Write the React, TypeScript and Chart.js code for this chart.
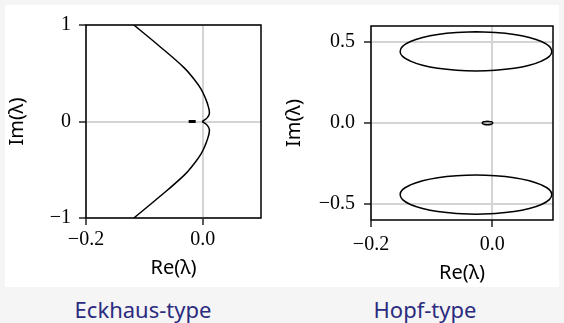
import React, { useEffect, useRef } from "react";
import { Chart, registerables } from "chart.js";

Chart.register(...registerables);

// ---------- data ----------
const reTicks = [-0.2, 0.0];
const reTickLabels = ["−0.2", "0.0"];

const eckImTicks = [-1, 0, 1];
const eckImTickLabels = ["−1", "0", "1"];

const hopfImTicks = [-0.5, 0, 0.5];
const hopfImTickLabels = ["−0.5", "0.0", "0.5"];

// Eckhaus-type spectrum: upper branch (top edge -> cusp at origin)
const eckUpperRe = [-0.118, -0.074, -0.032, -0.015, -0.003, 0.005, 0.0098, 0.0115, 0.008, 0.001, -0.001];
const eckUpperIm = [1.0, 0.78, 0.558, 0.44, 0.338, 0.237, 0.152, 0.084, 0.04, 0.007, 0.0];
// lower branch (bottom edge -> cusp)
const eckLowerRe = [-0.118, -0.074, -0.032, -0.015, -0.003, 0.005, 0.0098, 0.0115, 0.008, 0.001, -0.001];
const eckLowerIm = [-1.0, -0.78, -0.558, -0.44, -0.338, -0.237, -0.152, -0.084, -0.04, -0.007, 0.0];
// short segment on the real axis
const eckDashRe = [-0.024, -0.012];
const eckDashIm = [0.0, 0.0];

// Hopf-type spectrum: upper loop
const hopfUpperRe = [-0.027, -0.059, -0.090, -0.115, -0.135, -0.148, -0.152, -0.148, -0.135, -0.115, -0.090, -0.059, -0.027, 0.005, 0.036, 0.061, 0.081, 0.094, 0.098, 0.094, 0.081, 0.061, 0.036, 0.005, -0.027];
const hopfUpperIm = [0.564, 0.560, 0.548, 0.529, 0.504, 0.474, 0.443, 0.412, 0.383, 0.357, 0.338, 0.326, 0.322, 0.326, 0.338, 0.357, 0.383, 0.412, 0.443, 0.474, 0.504, 0.529, 0.548, 0.560, 0.564];
// lower loop
const hopfLowerRe = [-0.027, -0.059, -0.090, -0.115, -0.135, -0.148, -0.152, -0.148, -0.135, -0.115, -0.090, -0.059, -0.027, 0.005, 0.036, 0.061, 0.081, 0.094, 0.098, 0.094, 0.081, 0.061, 0.036, 0.005, -0.027];
const hopfLowerIm = [-0.564, -0.560, -0.548, -0.529, -0.504, -0.474, -0.443, -0.412, -0.383, -0.357, -0.338, -0.326, -0.322, -0.326, -0.338, -0.357, -0.383, -0.412, -0.443, -0.474, -0.504, -0.529, -0.548, -0.560, -0.564];
// small loop near the origin
const hopfSmallRe = [-0.008, -0.0142, -0.0167, -0.0142, -0.008, -0.0018, 0.0007, -0.0018, -0.008];
const hopfSmallIm = [0.0103, 0.0073, 0.0, -0.0073, -0.0103, -0.0073, 0.0, 0.0073, 0.0103];

// ---------- helpers ----------
const zip = (xs: number[], ys: number[]) => xs.map((x, i) => ({ x, y: ys[i] }));

const boxPlugin = {
  id: "frameBox",
  afterDatasetsDraw(chart: any) {
    const { ctx, chartArea: a } = chart;
    ctx.save();
    ctx.strokeStyle = "#000";
    ctx.lineWidth = 1.5;
    ctx.strokeRect(a.left, a.top, a.right - a.left, a.bottom - a.top);
    ctx.restore();
  },
};

const tickFont = { family: "'Liberation Serif', 'DejaVu Serif', serif", size: 20 };
const titleFont = { family: "'Noto Sans', sans-serif", size: 20, lineHeight: 1.2 };

function line(data: { x: number; y: number }[], width: number, tension = 0.4) {
  return {
    data,
    showLine: true,
    borderColor: "#000",
    backgroundColor: "#000",
    borderWidth: width,
    pointRadius: 0,
    tension,
    fill: false,
  };
}

function makeConfig(opts: {
  datasets: any[];
  yMin: number;
  yMax: number;
  yTicks: number[];
  yLabels: string[];
  yWidth: number;
  xHeight: number;
  pad: any;
  yPad: number;
  xPad: number;
  xTitlePad: number;
}) {
  return {
    type: "scatter" as const,
    data: { datasets: opts.datasets },
    options: {
      responsive: false,
      animation: false as const,
      devicePixelRatio: 1,
      layout: { padding: opts.pad },
      plugins: { legend: { display: false }, tooltip: { enabled: false } },
      scales: {
        x: {
          type: "linear" as const,
          min: -0.2,
          max: 0.1,
          afterBuildTicks: (s: any) => {
            s.ticks = reTicks.map((v) => ({ value: v }));
          },
          afterFit: (s: any) => {
            s.height = opts.xHeight;
          },
          ticks: {
            autoSkip: false,
            maxRotation: 0,
            color: "#000",
            font: tickFont,
            padding: opts.xPad,
            callback: (_v: any, i: number) => reTickLabels[i],
          },
          grid: {
            color: "#d4d4d4",
            lineWidth: 2,
            tickColor: "#000",
            tickLength: 7,
            tickWidth: 1.3,
          },
          border: { display: false },
          title: {
            display: true,
            text: "Re(λ)",
            color: "#000",
            font: titleFont,
            padding: { top: 0, bottom: opts.xTitlePad },
          },
        },
        y: {
          type: "linear" as const,
          min: opts.yMin,
          max: opts.yMax,
          afterBuildTicks: (s: any) => {
            s.ticks = opts.yTicks.map((v) => ({ value: v }));
          },
          afterFit: (s: any) => {
            s.width = opts.yWidth;
          },
          ticks: {
            autoSkip: false,
            color: "#000",
            font: tickFont,
            padding: opts.yPad,
            callback: (_v: any, i: number) => opts.yLabels[i],
          },
          grid: {
            color: "#d4d4d4",
            lineWidth: 2,
            tickColor: "#000",
            tickLength: 7,
            tickWidth: 1.3,
          },
          border: { display: false },
          title: {
            display: true,
            text: "Im(λ)",
            color: "#000",
            font: titleFont,
            padding: { top: 0, bottom: 0 },
          },
        },
      },
    },
    plugins: [boxPlugin],
  };
}

function ChartCanvas({ config, width, height, left, top }: any) {
  const ref = useRef<HTMLCanvasElement | null>(null);
  useEffect(() => {
    if (!ref.current) return;
    const chart = new Chart(ref.current, config as any);
    return () => chart.destroy();
  }, []);
  return (
    <canvas
      ref={ref}
      width={width}
      height={height}
      style={{ position: "absolute", left, top, width, height }}
    />
  );
}

export default function App() {
  const eckConfig = makeConfig({
    datasets: [
      line(zip(eckUpperRe, eckUpperIm), 1.5),
      line(zip(eckLowerRe, eckLowerIm), 1.5),
      line(zip(eckDashRe, eckDashIm), 3, 0),
    ],
    yMin: -1,
    yMax: 1,
    yTicks: eckImTicks,
    yLabels: eckImTickLabels,
    yWidth: 81,
    xHeight: 69,
    pad: { top: 16, right: 19, left: 0, bottom: 0 },
    yPad: 8,
    xPad: 3,
    xTitlePad: 7,
  });
  const hopfConfig = makeConfig({
    datasets: [
      line(zip(hopfUpperRe, hopfUpperIm), 1.5),
      line(zip(hopfLowerRe, hopfLowerIm), 1.5),
      line(zip(hopfSmallRe, hopfSmallIm), 1.5),
    ],
    yMin: -0.6,
    yMax: 0.6,
    yTicks: hopfImTicks,
    yLabels: hopfImTickLabels,
    yWidth: 89,
    xHeight: 67,
    pad: { top: 10, right: 6, left: 0, bottom: 0 },
    yPad: 9,
    xPad: 6,
    xTitlePad: 2,
  });

  const captionStyle: React.CSSProperties = {
    position: "absolute",
    top: 298,
    width: 282,
    textAlign: "center",
    fontFamily: "'Noto Sans', sans-serif",
    fontSize: 22,
    lineHeight: "22px",
    color: "#2b2b80",
    whiteSpace: "nowrap",
  };

  return (
    <div
      style={{
        position: "fixed",
        left: 0,
        top: 0,
        width: 564,
        height: 323,
        background: "#f5f5f5",
        overflow: "hidden",
      }}
    >
      <div
        style={{
          position: "absolute",
          left: 5,
          top: 5,
          width: 554,
          height: 282,
          background: "#ffffff",
        }}
      />
      <ChartCanvas config={eckConfig} width={275} height={282} left={5} top={5} />
      <ChartCanvas config={hopfConfig} width={277} height={282} left={282} top={5} />
      <div style={{ ...captionStyle, left: 2 }}>Eckhaus-type</div>
      <div style={{ ...captionStyle, left: 284 }}>Hopf-type</div>
    </div>
  );
}
